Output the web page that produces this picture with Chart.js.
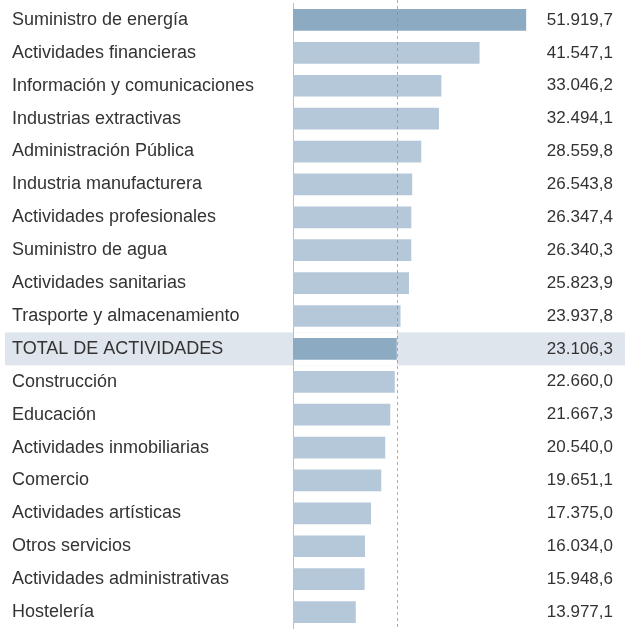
<!DOCTYPE html>
<html>
<head>
<meta charset="utf-8">
<script src="https://cdn.jsdelivr.net/npm/chart.js@4/dist/chart.umd.min.js"></script>
<style>
  body { margin: 0; background: #fff; }
  #wrap { width: 625px; height: 629px; }
</style>
</head>
<body>
<div id="wrap"><canvas id="chart" width="625" height="629"></canvas></div>
<script>
// sectores, de mayor a menor
const sectores = [
  'Suministro de energía', 'Actividades financieras', 'Información y comunicaciones',
  'Industrias extractivas', 'Administración Pública', 'Industria manufacturera',
  'Actividades profesionales', 'Suministro de agua', 'Actividades sanitarias',
  'Trasporte y almacenamiento', 'TOTAL DE ACTIVIDADES', 'Construcción', 'Educación',
  'Actividades inmobiliarias', 'Comercio', 'Actividades artísticas', 'Otros servicios',
  'Actividades administrativas', 'Hostelería'
]
const salarios = [
  51919.7, 41547.1, 33046.2, 32494.1, 28559.8, 26543.8, 26347.4, 26340.3, 25823.9,
  23937.8, 23106.3, 22660.0, 21667.3, 20540.0, 19651.1, 17375.0, 16034.0, 15948.6, 13977.1
]
const totalIndex = 10
const destacados = [0, totalIndex]

function fmt(v) {
  let [ent, dec] = v.toFixed(1).split('.')
  ent = ent.replace(/\B(?=(\d{3})+(?!\d))/g, '.')
  return ent + ',' + dec
}

const colores = salarios.map((v, i) => destacados.includes(i) ? '#8cabc3' : '#b4c8d9')

const fondoTotal = {
  id: 'fondoTotal',
  beforeDraw(chart) {
    const ctx = chart.ctx, y = chart.scales.y, x = chart.scales.x
    const paso = (y.bottom - y.top) / sectores.length
    const yc = y.getPixelForValue(totalIndex)
    ctx.save()
    ctx.fillStyle = '#dfe5ec'
    ctx.fillRect(5, yc - paso / 2, chart.width - 5, paso)
    ctx.fillStyle = '#fff'
    ctx.fillRect(x.left, yc - paso / 2, x.getPixelForValue(salarios[totalIndex]) - x.left, paso)
    ctx.restore()
  },
  afterDatasetsDraw(chart) {
    const ctx = chart.ctx, x = chart.scales.x
    const xp = Math.round(x.getPixelForValue(salarios[totalIndex])) + 0.5
    ctx.save()
    ctx.strokeStyle = 'rgba(130,140,150,0.7)'
    ctx.lineWidth = 1
    ctx.setLineDash([3, 3])
    ctx.beginPath()
    ctx.moveTo(xp, 0)
    ctx.lineTo(xp, chart.height)
    ctx.stroke()
    ctx.restore()
  }
}

const fuente = { family: '"Liberation Sans", Arial, sans-serif', size: 18 }
const fuenteValores = { family: '"Liberation Sans", Arial, sans-serif', size: 17 }

new Chart(document.querySelector('#chart'), {
  type: 'bar',
  data: {
    labels: sectores,
    datasets: [{
      data: salarios,
      backgroundColor: colores,
      borderWidth: 0,
      categoryPercentage: 1,
      barPercentage: 0.66
    }]
  },
  options: {
    indexAxis: 'y',
    responsive: false,
    animation: false,
    layout: { padding: { left: 12, right: 12, top: 3.5, bottom: 0.5 } },
    plugins: { legend: { display: false }, tooltip: { enabled: false } },
    scales: {
      x: { display: false, min: 0, max: 55000 },
      y: {
        position: 'left',
        grid: { display: false },
        border: { display: true, color: '#bdbdbd' },
        ticks: { autoSkip: false, crossAlign: 'far', padding: 0, color: '#333', font: fuente },
        afterFit(s) { s.width = 281; s.paddingTop = 0; s.paddingBottom = 0 }
      },
      y2: {
        type: 'category',
        position: 'right',
        grid: { display: false },
        border: { display: false },
        ticks: {
          autoSkip: false, crossAlign: 'far', padding: 0, color: '#333', font: fuenteValores,
          callback: (v, i) => fmt(salarios[i])
        },
        afterFit(s) { s.width = 73; s.paddingTop = 0; s.paddingBottom = 0 }
      }
    }
  },
  plugins: [fondoTotal]
})
</script>
</body>
</html>
